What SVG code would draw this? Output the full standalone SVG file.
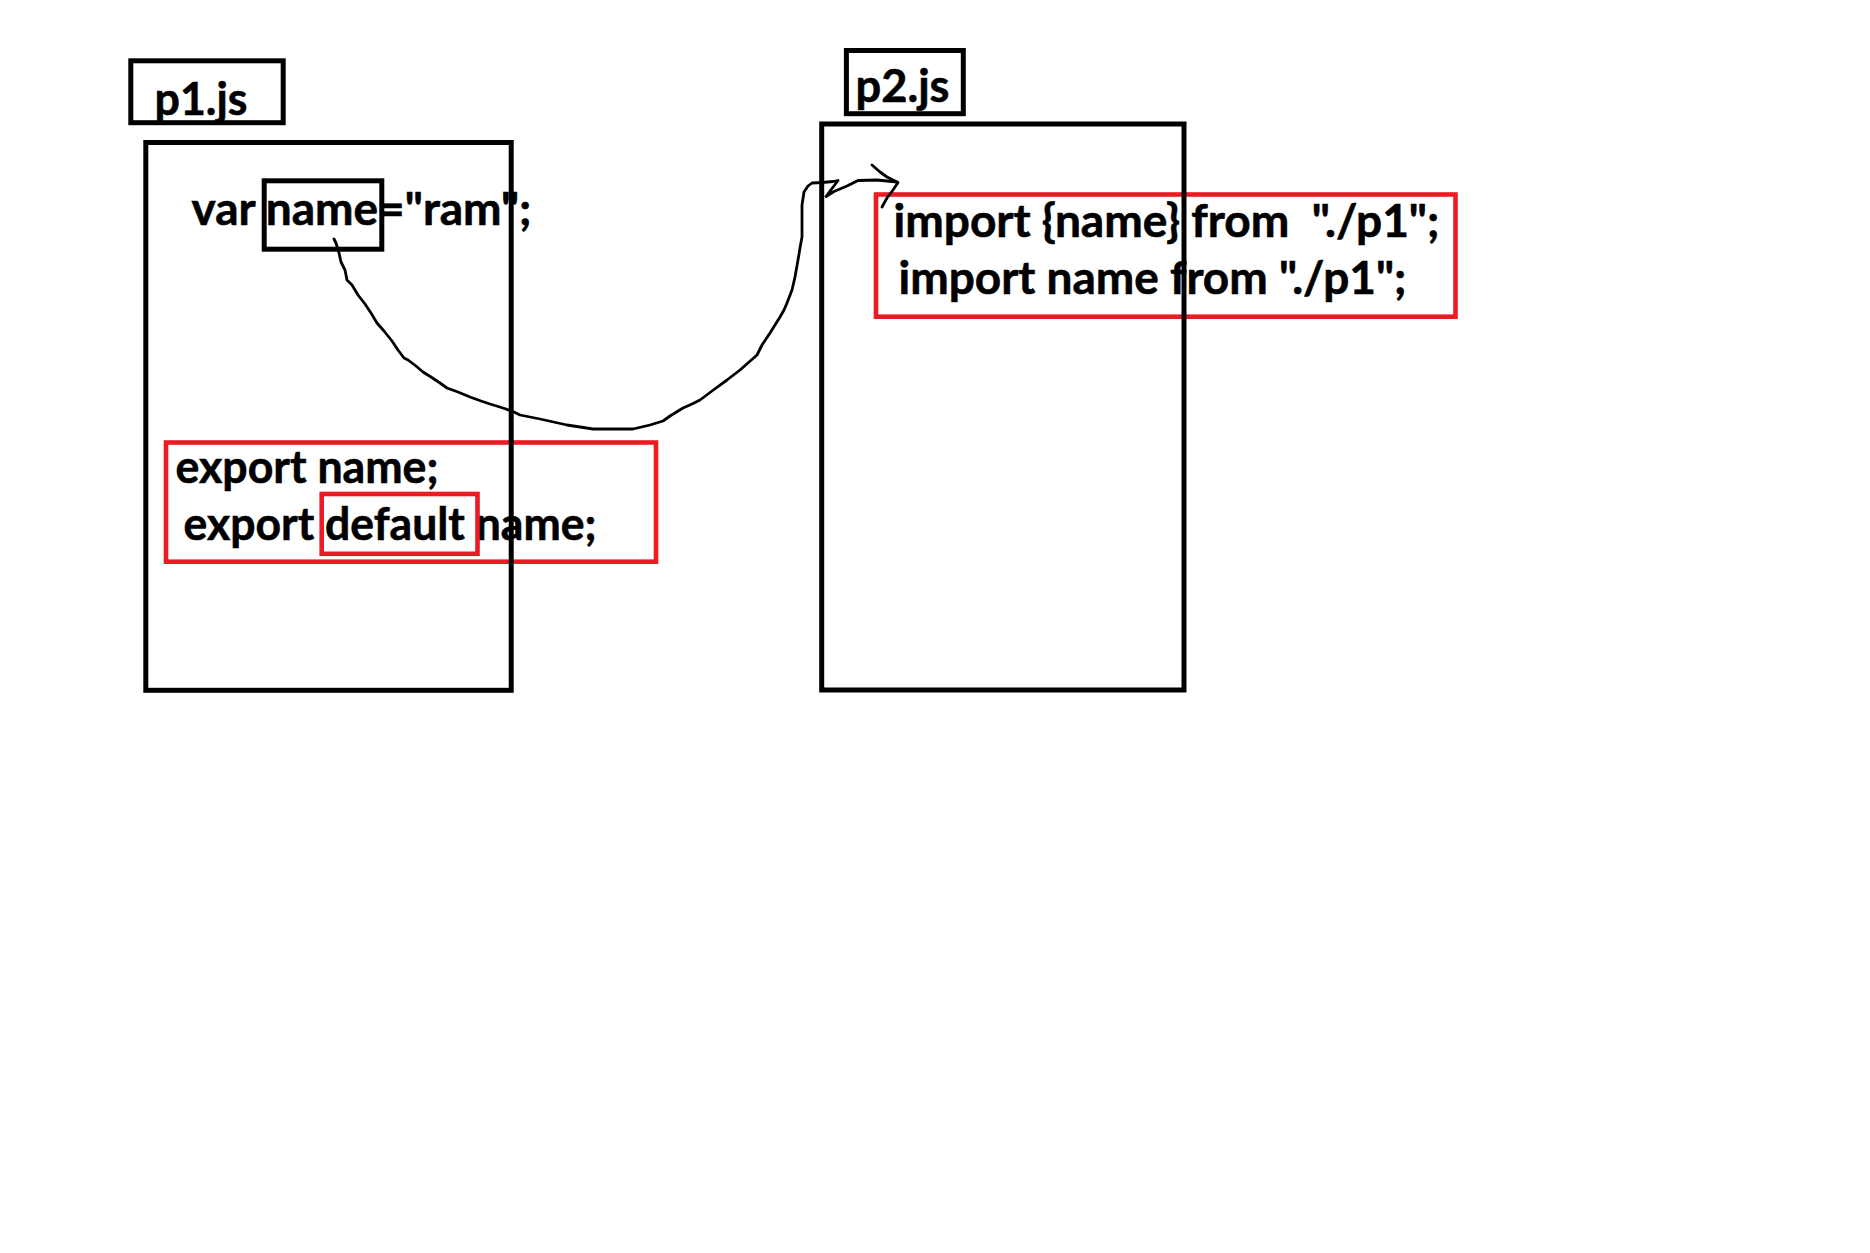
<svg xmlns="http://www.w3.org/2000/svg" width="1870" height="1253" viewBox="0 0 1870 1253">
  <style>
    .box { fill: none; stroke: #000; stroke-width: 5; }
    .red { fill: none; stroke: #ED1C24; stroke-width: 4.6; }
    .t { font-family: "Lato", "Liberation Sans", sans-serif; font-weight: 700; font-size: 46px; fill: #000; stroke: #000; stroke-width: 0.6; white-space: pre; }
    .wire { fill: none; stroke: #000; stroke-width: 2.8; stroke-linejoin: round; stroke-linecap: round; }
  </style>
  <rect x="0" y="0" width="1870" height="1253" fill="#fff"/>

  <g id="p1-label">
    <text class="t" x="154.5" y="115" textLength="93" lengthAdjust="spacingAndGlyphs">p1.js</text>
    <rect class="box" x="130.8" y="60.8" width="152.4" height="61.9"/>
  </g>

  <g id="p1-file">
    <g id="var-decl">
      <text class="t" x="191.5" y="225" textLength="340" lengthAdjust="spacingAndGlyphs">var name="ram";</text>
      <rect class="box" x="264.2" y="180.8" width="117.6" height="68.4"/>
    </g>
    <g id="export-block">
      <text class="t" x="175.5" y="483" textLength="263" lengthAdjust="spacingAndGlyphs">export name;</text>
      <text class="t" x="183.5" y="540" textLength="413" lengthAdjust="spacingAndGlyphs">export default name;</text>
      <rect class="red" x="166" y="442.5" width="490" height="119.2"/>
      <rect class="red" x="321.7" y="494" width="155.8" height="59.8"/>
    </g>
    <rect class="box" x="145.8" y="142.5" width="365.4" height="547.8"/>
  </g>

  <g id="p2-label">
    <text class="t" x="855.5" y="102" textLength="94" lengthAdjust="spacingAndGlyphs">p2.js</text>
    <rect class="box" x="846.4" y="50.5" width="116.9" height="63.2"/>
  </g>

  <g id="p2-file">
    <g id="import-block">
      <text class="t" x="893.5" y="237" textLength="546" lengthAdjust="spacingAndGlyphs">import {name} from  "./p1";</text>
      <text class="t" x="898.5" y="294" textLength="508" lengthAdjust="spacingAndGlyphs">import name from "./p1";</text>
      <rect class="red" x="876" y="194.5" width="579.5" height="122.2"/>
    </g>
    <rect class="box" x="821.7" y="124" width="362.3" height="566"/>
  </g>

  <g id="connectors">
    <path class="wire" d="M334,239 L336,243 L339,253 L341,262 L345,270 L347,280 L352,285 L358,295 L365,304 L371,313 L377,323 L384,331 L392,341 L398,350 L404,358 L408,360 L416,366 L423,372 L431,377 L440,383 L447,388 L458,392 L470,397 L481,401 L490,404 L503,408 L514,412 L520,415 L540,419 L567,425 L580,427 L593,429 L633,429 L650,425 L663,421 L670,416 L683,408 L692,404 L700,400 L712,391 L727,380 L740,370 L757,355 L762,345 L770,333 L780,317 L784,310 L787,303 L792,290 L795,277 L798,260 L800,248 L802,237 L802,220 L802,205 L804,192 L808,186 L812,183 L822,182.5 L833,181.5 L838,180.5 L826,196.5 L834,191.5 L847,186 L858,180.5 L877,180 L897,182"/>
    <path class="wire" d="M872,165 L880,172 L887,177 L898,182.5 L893,190 L887,198 L882,207"/>
  </g>
</svg>
